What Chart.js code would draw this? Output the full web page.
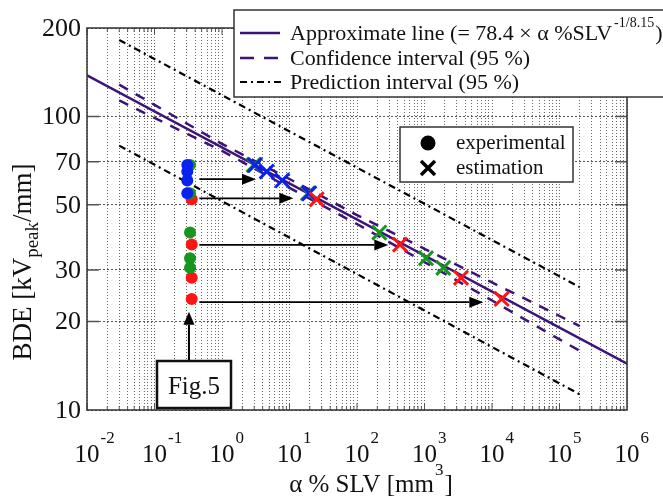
<!DOCTYPE html>
<html><head><meta charset="utf-8">
<script src="https://cdn.jsdelivr.net/npm/chart.js@4.4.1/dist/chart.umd.min.js"></script>
<style>html,body{margin:0;padding:0;background:#fff;}</style>
</head><body>
<canvas id="c" width="663" height="496"></canvas>
<script>
// ---------------- data ----------------
const xDecades = [-2, -1, 0, 1, 2, 3, 4, 5, 6];
const yTickValues = [200, 100, 70, 50, 30, 20, 10];
const yGridValues = [20, 30, 50, 70, 100];

const approxX = [0.01, 1e6];
const approxY = [138.0, 14.39];

const ciX     = [0.03, 0.1, 1, 10, 100, 1000, 1e4, 1e5, 2e5];
const ciUpper = [128.3, 109.5, 80.6, 61.2, 46.1, 35.4, 27.2, 20.9, 19.3];
const ciLower = [113.4, 98.8, 76.3, 57.1, 43.0, 31.9, 23.6, 17.4, 15.9];

const piX     = [0.03, 2e5];
const piUpper = [182, 26.2];
const piLower = [79.5, 11.3];

const expBlueX  = [0.306, 0.306, 0.306, 0.306];
const expBlueY  = [68.3, 64.9, 60.5, 54.7];
const expGreenX = [0.336, 0.336, 0.336, 0.336, 0.336];
const expGreenY = [68.3, 54.7, 40.2, 32.9, 30.5];
const expRedX   = [0.356, 0.356, 0.356, 0.356];
const expRedY   = [52.2, 36.6, 28.2, 23.9];

const estBlueX  = [3.08, 4.60, 7.80, 19.6];
const estBlueY  = [68.3, 64.9, 60.5, 54.7];
const estGreenX = [2.95, 18.8, 214, 1052, 1900];
const estGreenY = [68.3, 54.7, 40.2, 32.9, 30.5];
const estRedX   = [25.3, 434, 3475, 13900];
const estRedY   = [52.2, 36.6, 28.2, 23.9];

const arrowStartX = 0.461;
const arrowEndX   = [3.19, 11.4, 291, 7430];
const arrowY      = [61.1, 52.6, 36.5, 23.3];

const figArrowX = 0.324;
const figArrowY = [14.7, 21.6];

// ---------------- styling ----------------
const PURPLE = '#3c1478';
const BLUE = '#0a22ee';
const GREEN = '#16961e';
const RED = '#ff1414';
const SERIF = '"Liberation Serif", "Times New Roman", serif';

const pts = (xs, ys) => xs.map((x, i) => ({x: x, y: ys[i]}));
const lineDs = (d, color, w, dash, order) => ({data: d, showLine: true, borderColor: color, borderWidth: w, borderDash: dash, pointRadius: 0, fill: false, order: order});
const dotDs = (d, color, order) => ({data: d, showLine: false, pointStyle: 'circle', pointRadius: 6, backgroundColor: color, borderColor: color, borderWidth: 0, order: order});
const xDs = (d, color, order) => ({data: d, showLine: false, pointStyle: 'crossRot', pointRadius: 10, borderColor: color, backgroundColor: color, borderWidth: 3, order: order});

function arrow(c, x1, y1, x2, y2, len, half) {
  const ang = Math.atan2(y2 - y1, x2 - x1);
  const bx = x2 - len * Math.cos(ang), by = y2 - len * Math.sin(ang);
  c.beginPath(); c.moveTo(x1, y1); c.lineTo(bx, by); c.stroke();
  c.beginPath(); c.moveTo(x2, y2);
  c.lineTo(bx + half * Math.sin(ang), by - half * Math.cos(ang));
  c.lineTo(bx - half * Math.sin(ang), by + half * Math.cos(ang));
  c.closePath(); c.fill();
}

const custom = {
  id: 'custom',
  beforeDraw(chart) {
    const c = chart.ctx; c.save(); c.fillStyle = '#fff'; c.fillRect(0, 0, chart.width, chart.height); c.restore();
  },
  afterDatasetsDraw(chart) {
    const c = chart.ctx, xs = chart.scales.x, ys = chart.scales.y, a = chart.chartArea;
    c.save();
    c.strokeStyle = '#000'; c.fillStyle = '#000'; c.lineWidth = 1.8;
    arrowEndX.forEach((xe, i) => {
      const y = ys.getPixelForValue(arrowY[i]);
      arrow(c, xs.getPixelForValue(arrowStartX), y, xs.getPixelForValue(xe), y, 14, 5.5);
    });
    c.strokeStyle = '#555'; c.lineWidth = 1.5;
    yGridValues.forEach(v => {
      const y = ys.getPixelForValue(v);
      c.beginPath(); c.moveTo(a.left, y); c.lineTo(a.left + 12, y); c.moveTo(a.right, y); c.lineTo(a.right - 12, y); c.stroke();
    });
    c.lineWidth = 1;
    for (let n = -2; n < 6; n++) {
      for (let k = 1; k <= 9; k++) {
        const px = xs.getPixelForValue(k * Math.pow(10, n));
        const L = k === 1 ? 7 : 4;
        c.beginPath(); c.moveTo(px, a.bottom); c.lineTo(px, a.bottom - L); c.moveTo(px, a.top); c.lineTo(px, a.top + L); c.stroke();
      }
    }
    c.strokeStyle = '#333'; c.lineWidth = 1.5;
    c.strokeRect(a.left, a.top, a.right - a.left, a.bottom - a.top);
    const fx = xs.getPixelForValue(figArrowX);
    c.strokeStyle = '#000'; c.fillStyle = '#000'; c.lineWidth = 2;
    arrow(c, fx, ys.getPixelForValue(figArrowY[0]), fx, ys.getPixelForValue(figArrowY[1]), 13, 5.5);
    c.fillStyle = '#fff'; c.fillRect(157, 361, 74, 47);
    c.lineWidth = 2.5; c.strokeStyle = '#111'; c.strokeRect(157, 361, 74, 47);
    c.fillStyle = '#111'; c.font = '25px ' + SERIF; c.textAlign = 'center'; c.textBaseline = 'alphabetic';
    c.fillText('Fig.5', 194, 394);
    c.restore();
  },
  afterDraw(chart) {
    const c = chart.ctx, xs = chart.scales.x, ys = chart.scales.y;
    c.save();
    c.fillStyle = '#111';
    c.font = '26px ' + SERIF; c.textAlign = 'right'; c.textBaseline = 'middle';
    yTickValues.forEach(v => c.fillText(String(v), 81, ys.getPixelForValue(v) + 1));
    c.textBaseline = 'alphabetic'; c.textAlign = 'left';
    xDecades.forEach(n => {
      const px = xs.getPixelForValue(Math.pow(10, n));
      c.font = '25px ' + SERIF; const w = c.measureText('10').width;
      c.fillText('10', px - w / 2, 462);
      c.font = '17px ' + SERIF; c.fillText(String(n), px + w / 2 + 1, 443);
    });
    c.font = '25px ' + SERIF;
    const t1 = '\u03b1 % SLV [mm', t3 = ']';
    const w1 = c.measureText(t1).width, w3 = c.measureText(t3).width;
    c.font = '17px ' + SERIF; const w2 = c.measureText('3').width;
    let sx = 370 - (w1 + w2 + w3) / 2;
    c.font = '25px ' + SERIF; c.fillText(t1, sx, 492);
    c.font = '17px ' + SERIF; c.fillText('3', sx + w1 + 1, 475);
    c.font = '25px ' + SERIF; c.fillText(t3, sx + w1 + w2 + 2, 492);
    c.save(); c.translate(31, 262); c.rotate(-Math.PI / 2);
    c.font = '27px ' + SERIF; const a1 = 'BDE [kV', a3 = '/mm]';
    const aw1 = c.measureText(a1).width, aw3 = c.measureText(a3).width;
    c.font = '19px ' + SERIF; const aw2 = c.measureText('peak').width;
    let sy = -(aw1 + aw2 + aw3) / 2;
    c.font = '27px ' + SERIF; c.fillText(a1, sy, 0);
    c.font = '19px ' + SERIF; c.fillText('peak', sy + aw1, 7);
    c.font = '27px ' + SERIF; c.fillText(a3, sy + aw1 + aw2, 0);
    c.restore();

    c.fillStyle = '#fff'; c.fillRect(234, 10, 440, 87);
    c.strokeStyle = '#333'; c.lineWidth = 1.5; c.strokeRect(234, 10, 440, 87);
    c.lineWidth = 2.5; c.strokeStyle = PURPLE;
    c.beginPath(); c.moveTo(240, 33); c.lineTo(280, 33); c.stroke();
    c.setLineDash([14, 10]); c.beginPath(); c.moveTo(240, 58); c.lineTo(280, 58); c.stroke();
    c.strokeStyle = '#000'; c.lineWidth = 2.2; c.setLineDash([7, 4, 2, 4]);
    c.beginPath(); c.moveTo(240, 82); c.lineTo(284, 82); c.stroke();
    c.setLineDash([]);
    c.fillStyle = '#111'; c.textAlign = 'left'; c.textBaseline = 'alphabetic';
    c.font = '22px ' + SERIF;
    const L1 = 'Approximate line (= 78.4 \u00d7 \u03b1 %SLV';
    c.fillText(L1, 290, 40);
    const lw = c.measureText(L1).width;
    c.font = '14px ' + SERIF; c.fillText('-1/8.15', 290 + lw + 2, 27);
    const sw = c.measureText('-1/8.15').width;
    c.font = '22px ' + SERIF; c.fillText(')', 290 + lw + sw + 3, 40);
    c.fillText('Confidence interval (95 %)', 290, 65);
    c.fillText('Prediction interval (95 %)', 290, 89);

    c.fillStyle = '#fff'; c.fillRect(400, 127, 173, 55);
    c.strokeStyle = '#333'; c.lineWidth = 1.5; c.strokeRect(400, 127, 173, 55);
    c.fillStyle = '#000'; c.beginPath(); c.arc(428, 143, 7.5, 0, Math.PI * 2); c.fill();
    c.strokeStyle = '#000'; c.lineWidth = 3.5;
    c.beginPath(); c.moveTo(421, 161); c.lineTo(435, 175); c.moveTo(435, 161); c.lineTo(421, 175); c.stroke();
    c.fillStyle = '#111'; c.font = '21px ' + SERIF;
    c.fillText('experimental', 456, 149);
    c.fillText('estimation', 456, 174);
    c.restore();
  }
};

function xTicks(scale) {
  const t = [];
  for (let n = -2; n < 6; n++) for (let k = 1; k <= 9; k++) t.push({value: k * Math.pow(10, n)});
  t.push({value: 1e6});
  scale.ticks = t;
}
function yTicks(scale) {
  scale.ticks = [10].concat(yGridValues, [200]).map(v => ({value: v}));
}

new Chart(document.getElementById('c').getContext('2d'), {
  type: 'scatter',
  data: {datasets: [
    lineDs(pts(approxX, approxY), PURPLE, 2.5, [], 20),
    lineDs(pts(ciX, ciUpper), PURPLE, 2.5, [10, 9], 20),
    lineDs(pts(ciX, ciLower), PURPLE, 2.5, [10, 9], 20),
    lineDs(pts(piX, piUpper), '#000', 2.2, [7, 4, 2, 4], 20),
    lineDs(pts(piX, piLower), '#000', 2.2, [7, 4, 2, 4], 20),
    dotDs(pts(expRedX, expRedY), RED, 12),
    dotDs(pts(expGreenX, expGreenY), GREEN, 11),
    dotDs(pts(expBlueX, expBlueY), BLUE, 10),
    xDs(pts(estGreenX, estGreenY), GREEN, 9),
    xDs(pts(estBlueX, estBlueY), BLUE, 8),
    xDs(pts(estRedX, estRedY), RED, 7)
  ]},
  options: {
    responsive: false, animation: false, devicePixelRatio: 1, events: [],
    layout: {padding: {left: 87, right: 36, top: 28, bottom: 86}},
    plugins: {legend: {display: false}, tooltip: {enabled: false}},
    scales: {
      x: {type: 'logarithmic', min: 0.01, max: 1e6, afterBuildTicks: xTicks,
          ticks: {display: false}, grid: {color: '#6a6a6a', lineWidth: 1, drawTicks: false},
          border: {display: false, dash: [1, 2]}},
      y: {type: 'logarithmic', min: 10, max: 200, afterBuildTicks: yTicks,
          ticks: {display: false}, grid: {color: '#555', lineWidth: 1, drawTicks: false},
          border: {display: false, dash: [2, 2]}}
    }
  },
  plugins: [custom]
});
</script>
</body></html>
